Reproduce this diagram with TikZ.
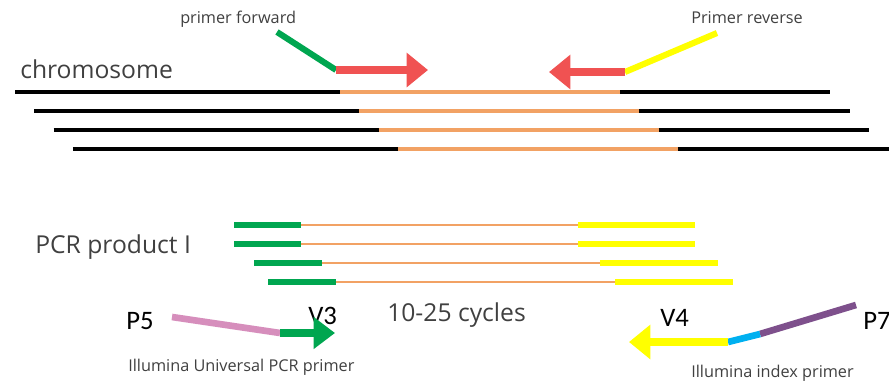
\documentclass[tikz,border=0pt]{standalone}
\usepackage{fontspec}
\setmainfont{Open Sans}
\newfontfamily\calfont{Carlito}
\usetikzlibrary{arrows.meta}
\definecolor{strandor}{RGB}{242,162,100}
\definecolor{arrred}{RGB}{240,82,82}
\definecolor{primgreen}{RGB}{0,166,80}
\definecolor{primyel}{RGB}{255,255,0}
\definecolor{adpink}{RGB}{214,142,188}
\definecolor{adpurple}{RGB}{126,80,140}
\definecolor{adblue}{RGB}{0,176,240}
\definecolor{labelgray}{RGB}{64,64,64}
\begin{document}
\begin{tikzpicture}[x=0.75pt,y=-0.75pt,
  dna/.style={line width=2.3pt},
  bar/.style={line width=4.6pt},
  block/.style={line width=5.4pt,-{Triangle[length=16pt,width=25pt]}},
  lbl/.style={inner sep=0pt,anchor=base west,text=labelgray},
  big/.style={font=\fontsize{18.5}{22}\selectfont},
  small/.style={font=\fontsize{12.2}{14}\selectfont},
  tag/.style={inner sep=0pt,anchor=base west,font=\calfont\fontsize{20}{24}\selectfont}]
\useasboundingbox (0,0) rectangle (889,383);
% chromosome strands
\foreach \i in {0,...,3}{
  \draw[dna,black] (15+19.3*\i,92+19*\i) -- (340+19.3*\i,92+19*\i);
  \draw[dna,strandor] (340+19.3*\i,92+19*\i) -- (620+19.3*\i,92+19*\i);
  \draw[dna,black] (620+19.3*\i,92+19*\i) -- (830+19.5*\i,92+19*\i);
}
\node[lbl,big] (chrom) at (20,78) {chromosome};
\node[lbl,small] (fwdlbl) at (180,23) {primer forward};
\node[lbl,small] (revlbl) at (691,23) {Primer reverse};
% primers on the chromosome
\coordinate (fwdA) at (277,32); \coordinate (fwdB) at (336,70); \coordinate (fwdT) at (428,70);
\coordinate (revA) at (717,33); \coordinate (revB) at (625,72); \coordinate (revT) at (549,72);
\draw[bar,primgreen] (fwdA) -- (fwdB);
\draw[block,arrred] (fwdB) -- (fwdT);
\draw[bar,primyel] (revA) -- (revB);
\draw[block,arrred] (revB) -- (revT);
% PCR products
\foreach \y/\a/\b/\c/\d in {225/234/301/578/695,244/234/301/578/695,263/254/322/600/718,282/268/336/615/733}{
  \draw[dna,strandor,line width=2pt] (\b,\y) -- (\c,\y);
  \draw[bar,primgreen] (\a,\y) -- (\b,\y);
  \draw[bar,primyel] (\c,\y) -- (\d,\y);
}
\node[lbl,big] (pcr) at (35,253) {PCR product I};
\node[lbl,big] (cyc) at (387,321) {10-25 cycles};
\node[tag] (v3) at (308,324) {V3};
\node[tag] (v4) at (660,326) {V4};
\node[tag] (p5) at (126,329) {P5};
\node[tag] (p7) at (863,329) {P7};
% Illumina primers
\coordinate (uniA) at (172,317); \coordinate (uniB) at (280,333); \coordinate (uniT) at (335,333);
\coordinate (idxA) at (856,305); \coordinate (idxB) at (760,334); \coordinate (idxC) at (728,342); \coordinate (idxT) at (629,342);
\draw[bar,adpink,line width=5pt] (uniA) -- (uniB);
\draw[block,primgreen,-{Triangle[length=16pt,width=23pt]}] (uniB) -- (uniT);
\draw[bar,adpurple,line width=5pt] (idxA) -- (idxB);
\draw[bar,adblue,line width=5pt] (idxB) -- (idxC);
\draw[block,primyel] (idxC) -- (idxT);
\node[lbl,small] (unilbl) at (128,371) {Illumina Universal PCR primer};
\node[lbl,small] (idxlbl) at (691,377) {Illumina index primer};
\end{tikzpicture}
\end{document}
